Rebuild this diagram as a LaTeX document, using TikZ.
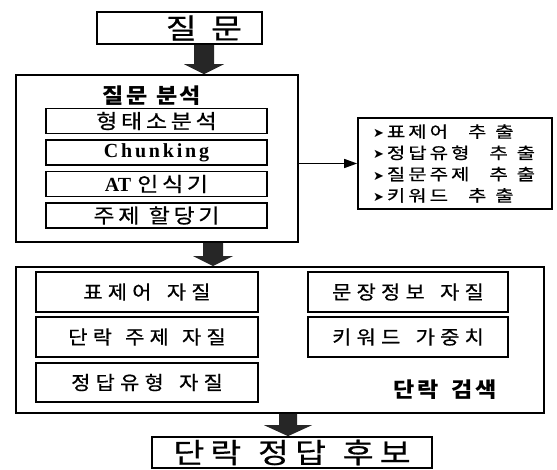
\documentclass[tikz,border=0pt]{standalone}
\usepackage{fontspec}
\usepackage{graphicx}
\setmainfont{Noto Sans CJK KR}
\newfontfamily\krr{Noto Sans CJK KR}[FakeBold=0.6]
\newfontfamily\dejavu{DejaVu Sans}
\newfontfamily\tnr{Liberation Serif}
\usetikzlibrary{calc,arrows.meta}
\newcommand{\ls}[1]{\addfontfeatures{LetterSpace=#1}}
\newcommand{\hs}[2]{\scalebox{#1}[1]{#2}}
\newcommand{\bl}{{\dejavu\fontsize{13}{13}\selectfont ➤}\hspace{3pt}}
\newcommand{\blkarrow}[5]{%
  \fill[arrowfill] ($(#1)+(-#3,0)$) -- ($(#1)+(#3,0)$) -- ($(#2)+(#3,-#5)$) -- ($(#2)+(#4,-#5)$) -- (#2) -- ($(#2)+(-#4,-#5)$) -- ($(#2)+(-#3,-#5)$) -- cycle;}
\begin{document}
\begin{tikzpicture}[x=1pt,y=-1pt,
  box/.style={draw=black, line width=1.7pt, rectangle, inner sep=0pt},
  ibox/.style={box, minimum width=221pt, minimum height=25pt, font=\krr\fontsize{20}{22}\selectfont\ls{16}},
  lbox/.style={box, minimum height=40pt, font=\krr\fontsize{19}{21}\selectfont\ls{25}},
  arrowfill/.style={fill=black!85},
  title/.style={font=\bfseries\fontsize{21}{23}\selectfont\ls{10}}
]
\useasboundingbox (0,0) rectangle (557,470);

% question
\node[box, minimum width=165pt, minimum height=32pt] (q) at (179.5,28) {};
\node[font=\krr\fontsize{28}{30}\selectfont] (qt) at (204,28) {\hs{1.2}{질\hspace{12pt}문}};

% question analysis
\node[box, minimum width=282pt, minimum height=167pt] (qa) at (157,158.5) {};
\node[title] (qat) at (152,96) {\hs{1.1}{질문\hspace{8pt}분석}};
\node[ibox] (m1) at (156.5,121) {\hs{1.15}{형태소분석}};
\node[ibox] (m2) at (156.5,152.5) {{\tnr\bfseries\fontsize{20}{22}\selectfont\ls{14}Chunking}};
\node[ibox] (m3) at (156.5,184) {{\tnr\bfseries\fontsize{20}{22}\selectfont AT}\hspace{6pt}\hs{1.15}{인식기}};
\node[ibox] (m4) at (156.5,215.5) {\hs{1.15}{주제\hspace{8pt}할당기}};

% extraction list
\node[box, minimum width=194pt, minimum height=91pt, text width=164pt, inner xsep=15pt,
      align=left, font=\krr\fontsize{16}{21.3}\selectfont\ls{15}] (rb) at (455,163.5)
  {\bl\hs{1.25}{표제어\hspace{16pt}추\hspace{7pt}출}\\
   \bl\hs{1.25}{정답유형\hspace{16pt}추\hspace{7pt}출}\\
   \bl\hs{1.25}{질문주제\hspace{16pt}추\hspace{7pt}출}\\
   \bl\hs{1.25}{키워드\hspace{16pt}추\hspace{7pt}출}};
\draw[line width=1.5pt, -{Triangle[length=13pt,width=9pt]}] (qa.east |- rb.west) -- (rb.west);

% paragraph retrieval
\node[box, line width=1.9pt, minimum width=528pt, minimum height=146pt] (sr) at (280,340) {};
\node[lbox, minimum width=222pt] (f1) at (147,292) {\hs{1.1}{표제어\hspace{14pt}자질}};
\node[lbox, minimum width=222pt] (f2) at (147,337) {\hs{1.1}{단락\hspace{12pt}주제\hspace{12pt}자질}};
\node[lbox, minimum width=222pt, minimum height=39pt] (f3) at (147,382.5) {\hs{1.1}{정답유형\hspace{14pt}자질}};
\node[lbox, minimum width=200pt] (f4) at (408,292) {\hs{1.1}{문장정보\hspace{14pt}자질}};
\node[lbox, minimum width=200pt] (f5) at (408,337) {\hs{1.1}{키워드\hspace{14pt}가중치}};
\node[title] (srt) at (445,390) {\hs{1.1}{단락\hspace{12pt}검색}};

% answer candidates
\node[box, minimum width=280pt, minimum height=31pt, font=\krr\fontsize{28}{30}\selectfont\ls{18}] (ans) at (292,452.5)
  {\hs{1.2}{단락\hspace{14pt}정답\hspace{14pt}후보}};

% block arrows
\coordinate (a2x) at (213,0);
\coordinate (a3x) at (288,0);
\coordinate (a1s) at (q.south -| qt.center);
\coordinate (a1e) at (qt.center |- qa.north);
\coordinate (a2s) at (qa.south -| a2x);
\coordinate (a2e) at (a2x |- sr.north);
\coordinate (a3s) at (sr.south -| a3x);
\coordinate (a3e) at (a3x |- ans.north);
\blkarrow{a1s}{a1e}{10}{20}{10}
\blkarrow{a2s}{a2e}{10}{20}{10}
\blkarrow{a3s}{a3e}{9}{24}{11}
\end{tikzpicture}
\end{document}
